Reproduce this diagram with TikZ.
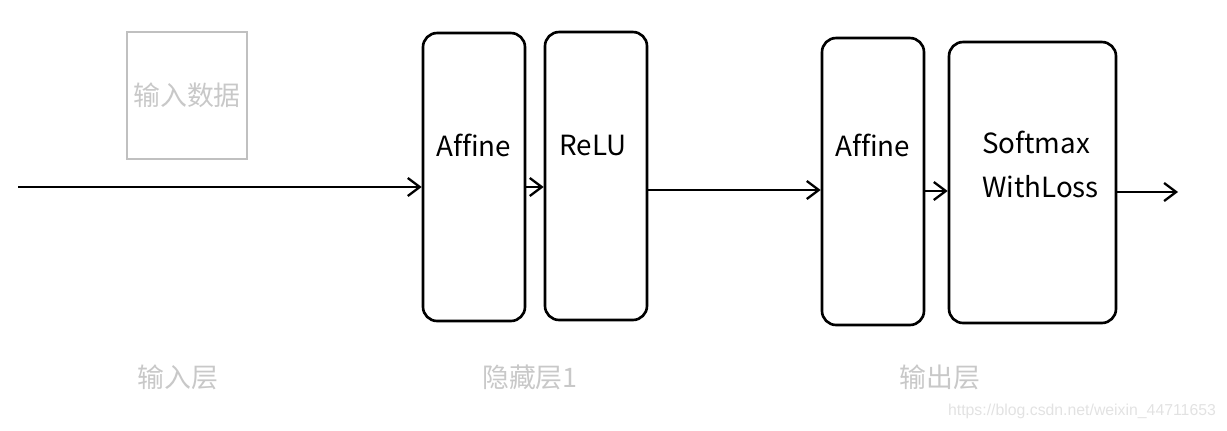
\documentclass[tikz,border=0pt]{standalone}
\usepackage{fontspec}
\setmainfont{Noto Sans CJK SC}[Ligatures=NoCommon]
\newfontfamily\wmfont{Liberation Sans}
\usetikzlibrary{arrows.meta}
\definecolor{boxgray}{HTML}{C0C0C0}
\definecolor{labgray}{HTML}{C8C8C8}
\definecolor{wmgray}{HTML}{E2E2E2}
\tikzset{
	layer/.style={shape=rectangle,draw=black,line width=1.5pt,rounded corners=0.28cm,inner sep=0pt},
	arr/.style={-{Straight Barb[length=0.24cm,width=0.36cm,line width=1.3pt]},line width=1.4pt},
	laytext/.style={font=\fontsize{15.8}{25}\selectfont},
	layname/.style={text=labgray,font=\fontsize{15.3}{18}\selectfont}
}
\begin{document}
\begin{tikzpicture}[x=0.02cm,y=-0.02cm]
	\useasboundingbox (0,0) rectangle (1227,430);

	% input data
	\node[shape=rectangle,draw=boxgray,line width=1.6pt,minimum width=2.4cm,minimum height=2.54cm,inner sep=0pt,text=labgray,font=\fontsize{15.3}{18}\selectfont] (data) at (187,95.5) {输入数据};

	% layers
	\node[layer,minimum width=2.04cm,minimum height=5.76cm,label={[laytext,anchor=center,yshift=-2.28cm]north:Affine}] (aff1) at (474,177) {};
	\node[layer,minimum width=2.04cm,minimum height=5.76cm,label={[laytext,anchor=center,yshift=-2.3cm,xshift=-0.06cm]north:ReLU}] (relu) at (596,176) {};
	\node[layer,minimum width=2.04cm,minimum height=5.74cm,label={[laytext,anchor=center,yshift=-2.18cm]north:Affine}] (aff2) at (873,181.5) {};
	\node[layer,minimum width=3.34cm,minimum height=5.62cm,label={[laytext,anchor=center,align=left,yshift=-2.48cm,xshift=0.16cm]north:Softmax\\WithLoss}] (smax) at (1032.5,182.5) {};

	\coordinate (src) at (18,187);
	\coordinate (dst) at (1178,192);

	\draw[arr] (src) -- (src -| aff1.west);
	\draw[arr] ([yshift=-0.2cm]aff1.east) -- ([yshift=-0.2cm]aff1.east -| relu.west);
	\draw[arr] ([yshift=-0.28cm]relu.east) -- ([yshift=-0.28cm]relu.east -| aff2.west);
	\draw[arr] ([yshift=-0.19cm]aff2.east) -- ([yshift=-0.19cm]aff2.east -| smax.west);
	\draw[arr] (dst -| smax.east) -- (dst);

	% layer names
	\node[layname] (inname) at (178,377) {输入层};
	\node[layname] (hidname) at (530,377) {隐藏层1};
	\node[layname] (outname) at (940,377) {输出层};

	\node[text=wmgray,font=\wmfont\fontsize{9}{10}\selectfont] (wm) at (1082,411) {https://blog.csdn.net/weixin\_44711653};
\end{tikzpicture}
\end{document}
